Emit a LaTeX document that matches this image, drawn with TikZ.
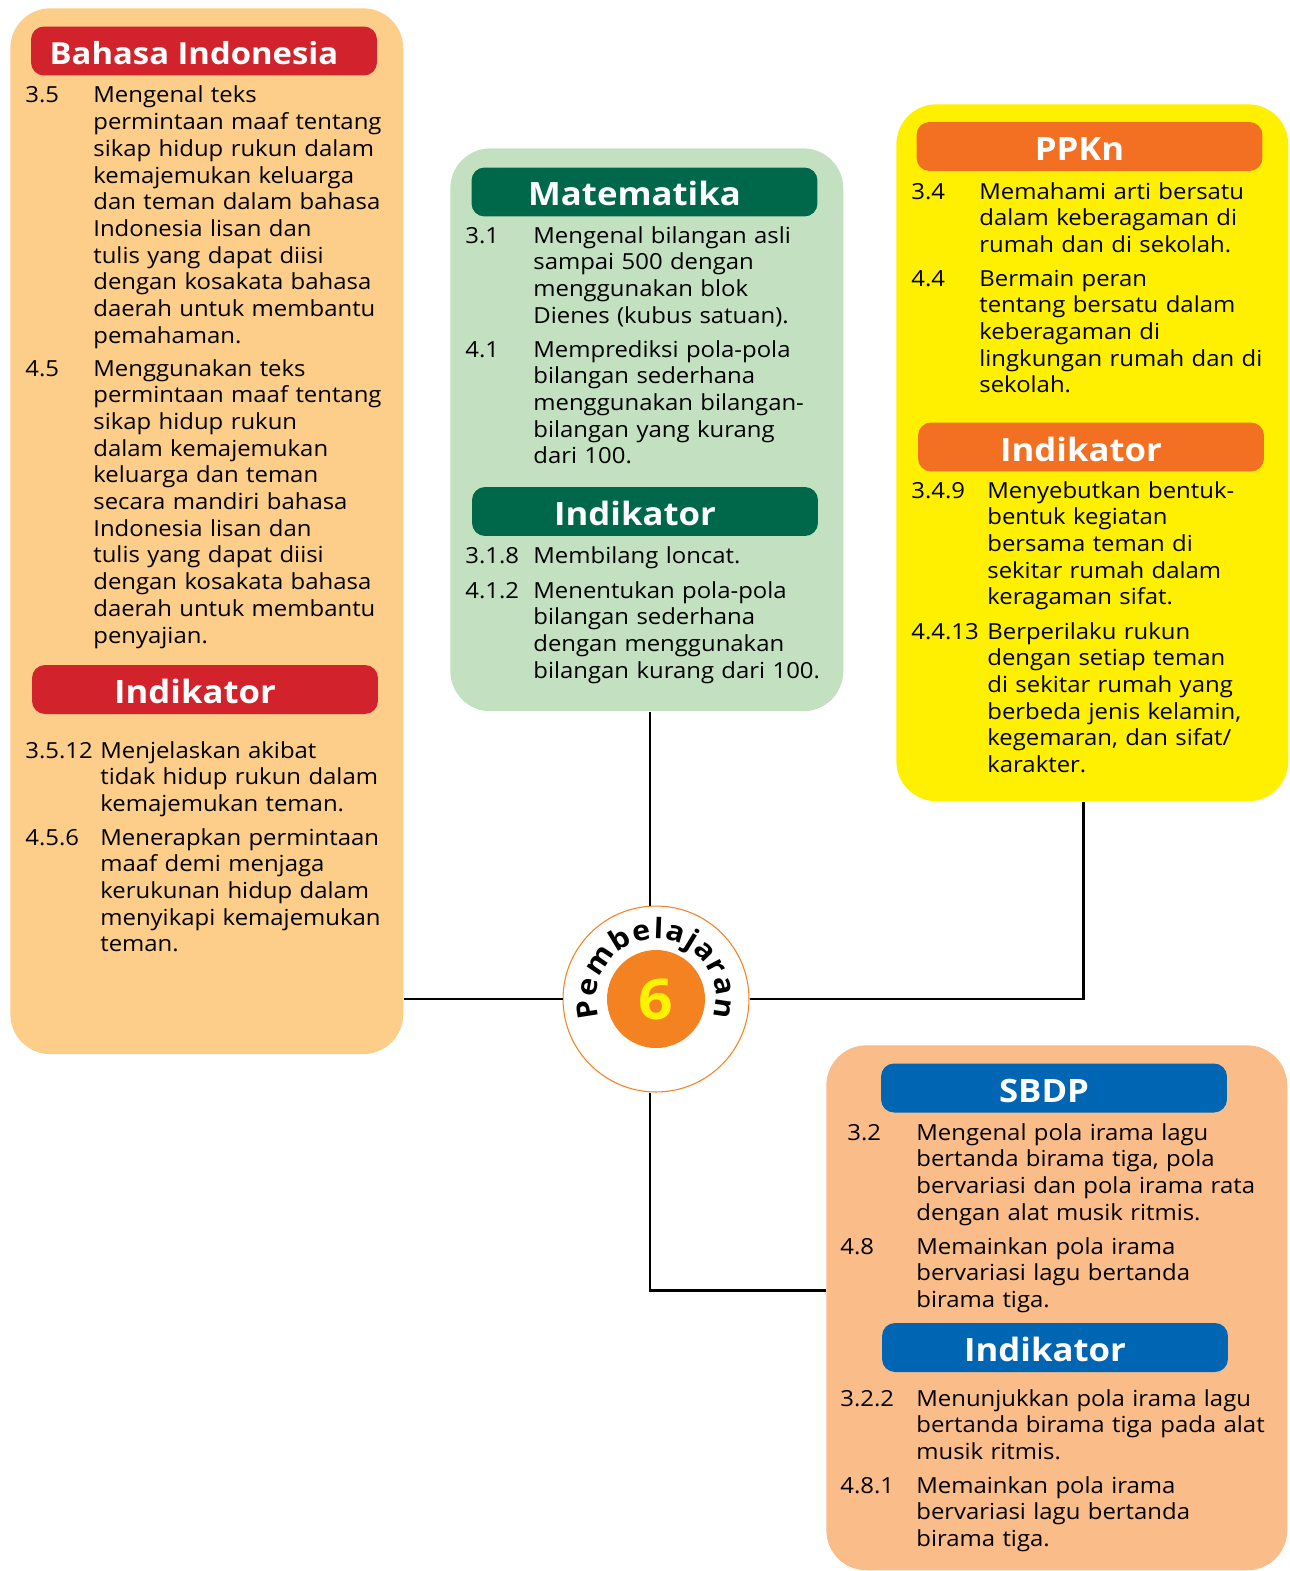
\documentclass[tikz,border=0pt]{standalone}
\usepackage{fontspec}
\setmainfont{Open Sans}[FakeStretch=1.08]
\usepackage{tikz}
\usetikzlibrary{decorations.text}
\definecolor{bipeach}{HTML}{FDCD8A}
\definecolor{sbpeach}{HTML}{FABC88}
\definecolor{matgreen}{HTML}{C3E1C0}
\definecolor{ppkyel}{HTML}{FFF000}
\definecolor{bired}{HTML}{D2222B}
\definecolor{matdark}{HTML}{00684A}
\definecolor{ppkorange}{HTML}{F37022}
\definecolor{sbblue}{HTML}{0065B3}
\definecolor{circorange}{HTML}{F58220}
\definecolor{sixyel}{HTML}{FFF200}

\begin{document}
\begin{tikzpicture}[x=0.02cm,y=-0.02cm,
  panel/.style={rectangle,rounded corners=0.8cm,anchor=north west,inner sep=0pt},
  head/.style={rectangle,rounded corners=0.26cm,minimum width=6.92cm,minimum height=0.98cm,inner sep=0pt},
  headtxt/.style={text=white,font=\fontsize{18.3}{20}\selectfont\bfseries,text height=0.46cm,text depth=0pt,inner sep=0pt},
  kd/.style={anchor=base west,inner sep=0pt,font=\fontsize{12.6}{15.2}\selectfont},
  desc/.style={kd,text width=7.5cm,align=left},
  conn/.style={line width=1.4pt}]
\useasboundingbox (0,0) rectangle (1290,1571);

% panels
\node[panel,fill=bipeach,minimum width=7.86cm,minimum height=20.92cm] (bindo) at (10,8) {};
\node[panel,fill=matgreen,minimum width=7.86cm,minimum height=11.26cm] (mat) at (450,148) {};
\node[panel,fill=ppkyel,minimum width=7.84cm,minimum height=13.94cm] (ppkn) at (896,104) {};
\node[panel,fill=sbpeach,minimum width=9.22cm,minimum height=10.5cm] (sbdp) at (826,1045) {};

% Bahasa Indonesia
\node[head,fill=bired] (bihead) at (204,51) {};
\node[headtxt,font=\fontsize{17.3}{20}\selectfont\bfseries] at ([xshift=-0.2cm,yshift=-0.05cm]bihead) {Bahasa Indonesia};
\node[kd] (n35) at (25,103) {3.5};
\node[desc] (bi35) at (93,103) {Mengenal teks\\permintaan maaf tentang\\sikap hidup rukun dalam\\kemajemukan keluarga\\dan teman dalam bahasa\\Indonesia lisan dan\\tulis yang dapat diisi\\dengan kosakata bahasa\\daerah untuk membantu\\pemahaman.};
\node[kd] (n45) at (25,376) {4.5};
\node[desc] (bi45) at (93,376) {Menggunakan teks\\permintaan maaf tentang\\sikap hidup rukun\\dalam kemajemukan\\keluarga dan teman\\secara mandiri bahasa\\Indonesia lisan dan\\tulis yang dapat diisi\\dengan kosakata bahasa\\daerah untuk membantu\\penyajian.};
\node[head,fill=bired] (biind) at (205,689.5) {};
\node[headtxt] at ([xshift=-0.2cm,yshift=-0.05cm]biind) {Indikator};
\node[kd] (n3512) at (25,758) {3.5.12};
\node[desc] (bi3512) at (100,758) {Menjelaskan akibat\\tidak hidup rukun dalam\\kemajemukan teman.};
\node[kd] (n456) at (25,845) {4.5.6};
\node[desc] (bi456) at (100,845) {Menerapkan permintaan\\maaf demi menjaga\\kerukunan hidup dalam\\menyikapi kemajemukan\\teman.};

% Matematika
\node[head,fill=matdark] (mthead) at (644.5,192) {};
\node[headtxt] at ([xshift=-0.2cm,yshift=-0.05cm]mthead) {Matematika};
\node[kd] (n31) at (465,243) {3.1};
\node[desc] (mt31) at (533,243) {Mengenal bilangan asli\\sampai 500 dengan\\menggunakan blok\\Dienes (kubus satuan).};
\node[kd] (n41) at (465,357) {4.1};
\node[desc] (mt41) at (533,357) {Memprediksi pola-pola\\bilangan sederhana\\menggunakan bilangan-\\bilangan yang kurang\\dari 100.};
\node[head,fill=matdark] (mtind) at (645,511.5) {};
\node[headtxt] at ([xshift=-0.2cm,yshift=-0.05cm]mtind) {Indikator};
\node[kd] (n318) at (465,563) {3.1.8};
\node[desc] (mt318) at (533,563) {Membilang loncat.};
\node[kd] (n412) at (465,598) {4.1.2};
\node[desc] (mt412) at (533,598) {Menentukan pola-pola\\bilangan sederhana\\dengan menggunakan\\bilangan kurang dari 100.};

% PPKn
\node[head,fill=ppkorange] (pkhead) at (1089.5,146.5) {};
\node[headtxt] at ([xshift=-0.2cm,yshift=-0.05cm]pkhead) {PPKn};
\node[kd] (n34) at (911,199) {3.4};
\node[desc] (pk34) at (979,199) {Memahami arti bersatu\\dalam keberagaman di\\rumah dan di sekolah.};
\node[kd] (n44) at (911,286) {4.4};
\node[desc] (pk44) at (979,286) {Bermain peran\\tentang bersatu dalam\\keberagaman di\\lingkungan rumah dan di\\sekolah.};
\node[head,fill=ppkorange] (pkind) at (1091,447) {};
\node[headtxt] at ([xshift=-0.2cm,yshift=-0.05cm]pkind) {Indikator};
\node[kd] (n349) at (911,498) {3.4.9};
\node[desc] (pk349) at (987,498) {Menyebutkan bentuk-\\bentuk kegiatan\\bersama teman di\\sekitar rumah dalam\\keragaman sifat.};
\node[kd] (n4413) at (911,639) {4.4.13};
\node[desc] (pk4413) at (987,639) {Berperilaku rukun\\dengan setiap teman\\di sekitar rumah yang\\berbeda jenis kelamin,\\kegemaran, dan sifat/\\karakter.};

% SBDP
\node[head,fill=sbblue] (sbhead) at (1054,1088) {};
\node[headtxt] at ([xshift=-0.2cm,yshift=-0.05cm]sbhead) {SBDP};
\node[kd] (n32) at (847,1140) {3.2};
\node[desc] (sb32) at (916,1140) {Mengenal pola irama lagu\\bertanda birama tiga, pola\\bervariasi dan pola irama rata\\dengan alat musik ritmis.};
\node[kd] (n48) at (840,1254) {4.8};
\node[desc] (sb48) at (916,1254) {Memainkan pola irama\\bervariasi lagu bertanda\\birama tiga.};
\node[head,fill=sbblue] (sbind) at (1055,1347.5) {};
\node[headtxt] at ([xshift=-0.2cm,yshift=-0.05cm]sbind) {Indikator};
\node[kd] (n322) at (840,1406) {3.2.2};
\node[desc] (sb322) at (916,1406) {Menunjukkan pola irama lagu\\bertanda birama tiga pada alat\\musik ritmis.};
\node[kd] (n481) at (840,1493) {4.8.1};
\node[desc] (sb481) at (916,1493) {Memainkan pola irama\\bervariasi lagu bertanda\\birama tiga.};

% center
\node[circle,draw=circorange,line width=0.6pt,fill=white,minimum size=3.72cm,inner sep=0pt] (pemb) at (656,999) {};
\node[circle,fill=circorange,minimum size=1.96cm,inner sep=0pt,text=sixyel,font=\fontsize{32}{32}\selectfont\bfseries] (six) at (pemb) {6};
\path[decorate,decoration={text along path,text={|\fontsize{16}{16}\selectfont\bfseries|Pembelajaran},text align={fit to path}}]
  (pemb.center) ++(198:1.2cm) arc[start angle=198,end angle=-18,radius=1.2cm];

\draw[conn] ([xshift=-0.12cm]pemb.north) -- ([xshift=-0.12cm]pemb.north |- mat.south);
\draw[conn] (pemb.west) -- (pemb.west -| bindo.east);
\draw[conn] (pemb.east) -| ([xshift=-0.18cm]ppkn.south);
\draw[conn] ([xshift=-0.12cm]pemb.south) |- ([yshift=0.35cm]sbdp.west);
\end{tikzpicture}
\end{document}
